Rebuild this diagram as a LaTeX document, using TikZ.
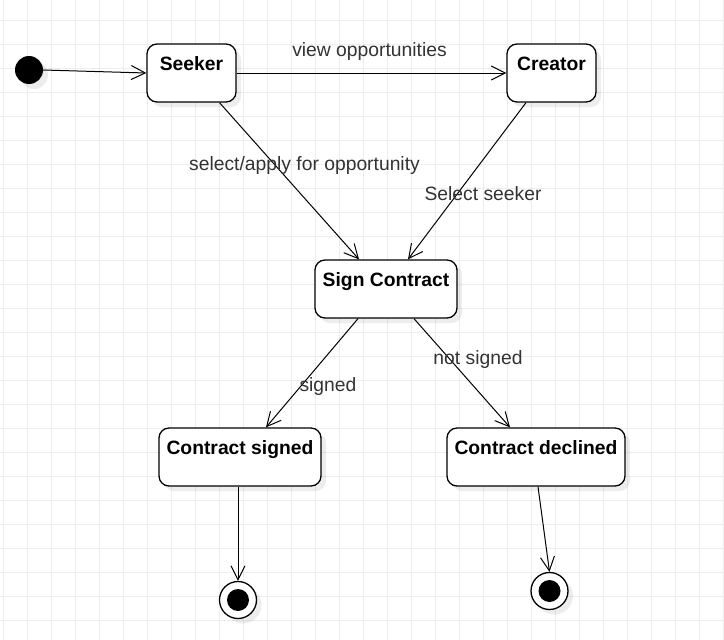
\documentclass[tikz,border=0pt]{standalone}
\usepackage{fontspec}
\setmainfont{Liberation Sans}
\usetikzlibrary{arrows.meta}
\usetikzlibrary{shadows}

\newcommand{\diafont}{\fontsize{19.3pt}{23pt}\selectfont}

\begin{document}
\begin{tikzpicture}[x=1pt, y=-1pt,
    gridline/.style={draw=black!7, line width=0.8pt},
    shade/.style={drop shadow={shadow xshift=5pt, shadow yshift=-5pt, fill=black, opacity=0.07}},
    state/.style={draw, line width=1.3pt, rounded corners=10pt, fill=white, shade,
        font=\diafont\bfseries, text height=14pt, text depth=20pt,
        inner ysep=12pt, inner xsep=0pt},
    trans/.style={-{Straight Barb[length=14pt, width=14pt]}, line width=1pt},
    tlabel/.style={anchor=base, text=black!80, font=\diafont, inner sep=0pt}]
            \useasboundingbox (0,0) rectangle (724,640);
            \fill[white] (0,0) rectangle (724,640);
            % grid
            \foreach \x in {3,27,...,723} \draw[gridline] (\x,0) -- (\x,640);
            \foreach \y in {20,44,...,620} \draw[gridline] (0,\y) -- (724,\y);

            % states
            \node[circle, fill=black, minimum size=28pt, inner sep=0pt, shade] (init) at (29,70) {};
            \node[state, minimum width=89pt] (seeker) at (191.5,73) {Seeker};
            \node[state, minimum width=89pt] (creator) at (551.5,73) {Creator};
            \node[state, minimum width=142pt] (sign) at (386,289) {Sign Contract};
            \node[state, minimum width=162pt] (signed) at (240,457) {Contract signed};
            \node[state, minimum width=178pt] (declined) at (536,457) {Contract declined};
            \node[circle, draw, line width=1.3pt, fill=white, minimum size=37pt, inner sep=0pt, shade] (endA) at (238,600) {};
            \node[circle, draw, line width=1.3pt, fill=white, minimum size=37pt, inner sep=0pt, shade] (endB) at (549.5,591) {};
            \fill[black] (endA.center) circle (11pt);
            \fill[black] (endB.center) circle (11pt);

            % transitions
            \draw[trans] (init.east) -- (seeker.west);
            \draw[trans] (seeker.east) -- (creator.west);
            \draw[trans] ([xshift=28pt]seeker.south) -- ([xshift=-27pt]sign.north);
            \draw[trans] ([xshift=-25.5pt]creator.south) -- ([xshift=22pt]sign.north);
            \draw[trans] ([xshift=-28pt]sign.south) -- ([xshift=26pt]signed.north);
            \draw[trans] ([xshift=28pt]sign.south) -- ([xshift=-26pt]declined.north);
            \draw[trans] ([xshift=-2pt]signed.south) -- (endA.north);
            \draw[trans] ([xshift=2pt]declined.south) -- (endB.north);

            % labels
            \node[tlabel] (lview) at (369.5,56) {view opportunities};
            \node[tlabel] (lapply) at (304.5,170) {select/apply for opportunity};
            \node[tlabel] (lselect) at (483,200) {Select seeker};
            \node[tlabel] (lsigned) at (328,391.5) {signed};
            \node[tlabel] (lnot) at (478,364) {not signed};
\end{tikzpicture}
\end{document}
